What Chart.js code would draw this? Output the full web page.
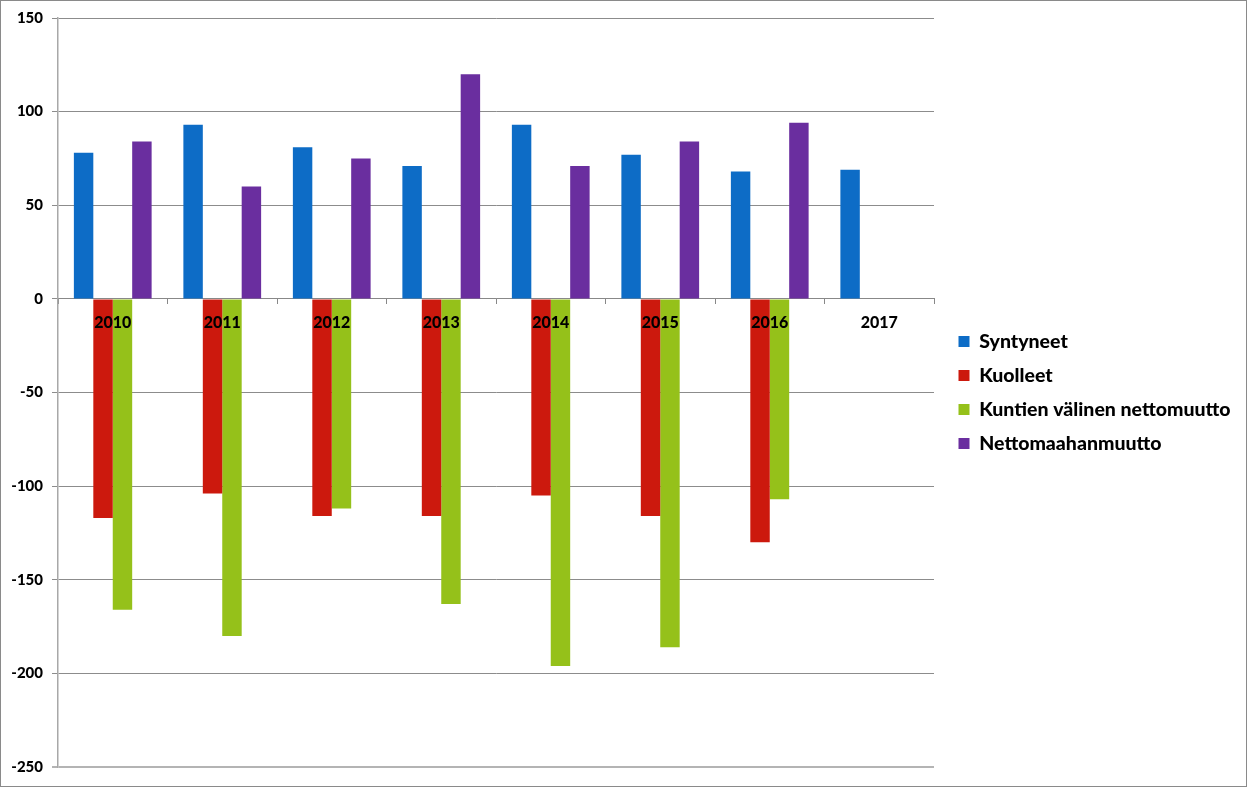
<!DOCTYPE html>
<html>
<head>
<meta charset="utf-8">
<script src="https://cdn.jsdelivr.net/npm/chart.js@4.4.1/dist/chart.umd.min.js"></script>
<style>
  html, body { margin: 0; padding: 0; background: #fff; }
  #wrap { position: relative; width: 1247px; height: 787px; }
  #frame { position: absolute; left: 0; top: 0; width: 1247px; height: 787px; box-sizing: border-box; border: 1px solid #8a8a8a; pointer-events: none; }
</style>
</head>
<body>
<div id="wrap">
  <canvas id="c" width="1247" height="787"></canvas>
  <div id="frame"></div>
</div>
<script>
const years = ['2010', '2011', '2012', '2013', '2014', '2015', '2016', '2017'];
const syntyneet = [78, 93, 81, 71, 93, 77, 68, 69];
const kuolleet = [-117, -104, -116, -116, -105, -116, -130, null];
const kuntienValinen = [-166, -180, -112, -163, -196, -186, -107, null];
const nettomaahanmuutto = [84, 60, 75, 120, 71, 84, 94, null];
const seriesNames = ['Syntyneet', 'Kuolleet', 'Kuntien välinen nettomuutto', 'Nettomaahanmuutto'];
const seriesColors = ['#0d6cc6', '#cc190d', '#95c11a', '#6a2e9f'];
const yTicks = { min: -250, max: 150, step: 50 };

const FONT = 'Lato, "Open Sans", "DejaVu Sans", sans-serif';

const legendFix = {
  id: 'legendFix',
  afterInit(chart) {
    const lg = chart.legend;
    if (!lg) return;
    const orig = lg.fit.bind(lg);
    lg.fit = function () { orig(); this.width = 313; };
  },
  afterLayout(chart) {
    const lg = chart.legend;
    if (!lg) return;
    lg.left += 10;
    lg.right += 10;
  }
};

const values = [syntyneet, kuolleet, kuntienValinen, nettomaahanmuutto];

new Chart(document.getElementById('c'), {
  type: 'bar',
  data: {
    labels: years,
    datasets: seriesNames.map((name, i) => ({
      label: name,
      data: values[i],
      backgroundColor: seriesColors[i],
      borderWidth: 0,
      categoryPercentage: 0.71,
      barPercentage: 1.0
    }))
  },
  options: {
    responsive: false,
    animation: false,
    devicePixelRatio: 1,
    layout: { padding: { left: 0, right: 0, top: 18, bottom: 20 } },
    plugins: {
      tooltip: { enabled: false },
      legend: {
        position: 'right',
        align: 'center',
        labels: {
          boxWidth: 11,
          boxHeight: 11,
          padding: 14.5,
          color: '#000',
          font: { family: FONT, size: 19.5, weight: 900 }
        }
      }
    },
    scales: {
      x: {
        position: { y: 0 },
        grid: {
          drawOnChartArea: false,
          drawTicks: true,
          tickLength: 5,
          color: '#888'
        },
        border: { display: true, color: '#888', width: 1 },
        ticks: {
          z: 1,
          color: '#000',
          padding: 9,
          maxRotation: 0,
          font: { family: FONT, size: 16, weight: 900 }
        }
      },
      y: {
        min: yTicks.min,
        max: yTicks.max,
        afterFit(scale) { scale.width = 58; },
        grid: {
          color: (ctx) => (ctx.tick && ctx.tick.value === yTicks.min) ? '#b4b4b4' : '#8c8c8c',
          lineWidth: (ctx) => (ctx.tick && ctx.tick.value === yTicks.min) ? 2 : 1,
          tickLength: 6,
          drawTicks: true
        },
        border: { display: true, color: '#a8a8a8', width: 1.5 },
        ticks: {
          stepSize: yTicks.step,
          color: '#000',
          padding: 9,
          font: { family: FONT, size: 15, weight: 900 }
        }
      }
    }
  },
  plugins: [legendFix]
});
</script>
</body>
</html>
